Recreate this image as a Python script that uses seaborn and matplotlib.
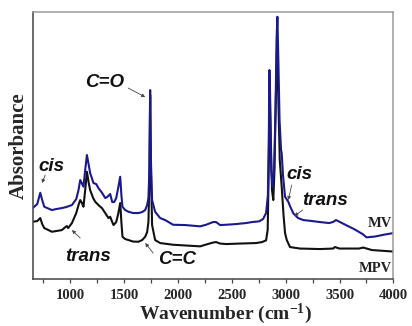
import matplotlib
matplotlib.use("Agg")
import matplotlib.pyplot as plt
import seaborn as sns
import pandas as pd
import numpy as np

# ---- data ----
mv_wn = [652, 694, 722, 740, 759, 830, 870, 923, 963, 1016, 1056, 1077, 1093, 1107, 1123,
         1139, 1155, 1172, 1185, 1216, 1241, 1262, 1297, 1325, 1343, 1371, 1390, 1408, 1427,
         1445, 1464, 1475, 1485, 1510, 1541, 1584, 1633, 1668, 1696, 1714, 1726, 1735, 1742,
         1749, 1760, 1788, 1835, 1881, 1955, 2067, 2206, 2261, 2326, 2354, 2391, 2447, 2540,
         2632, 2688, 2753, 2790, 2818, 2835, 2844, 2849, 2855, 2866, 2878, 2892, 2906, 2915,
         2923, 2932, 2943, 2957, 2963, 2975, 2994, 3024, 3040, 3071, 3115, 3164, 3245, 3318,
         3402, 3439, 3467, 3504, 3559, 3634, 3714, 3750, 3827, 3920, 4000]
mv_abs = [0.71, 0.75, 0.863, 0.79, 0.723, 0.69, 0.70, 0.71, 0.72, 0.74, 0.80, 0.89, 0.99, 0.96, 0.923,
          1.09, 1.24, 1.14, 1.06, 0.96, 0.95, 0.91, 0.86, 0.81, 0.82, 0.85, 0.77, 0.77, 0.81,
          0.91, 1.023, 0.84, 0.723, 0.69, 0.673, 0.66, 0.66, 0.67, 0.69, 0.74, 0.81, 1.09, 1.89,
          1.19, 0.79, 0.673, 0.61, 0.59, 0.543, 0.54, 0.527, 0.543, 0.57, 0.57, 0.54, 0.543, 0.55,
          0.56, 0.57, 0.577, 0.60, 0.66, 0.84, 1.49, 2.09, 1.69, 1.09, 0.92, 1.09, 1.69, 2.39,
          2.623, 2.19, 1.59, 1.29, 1.26, 1.04, 0.823, 0.773, 0.73, 0.657, 0.61, 0.59, 0.58, 0.57,
          0.56, 0.57, 0.59, 0.57, 0.54, 0.50, 0.45, 0.417, 0.425, 0.445, 0.46]

mpv_wn = [652, 694, 722, 740, 759, 830, 870, 923, 944, 969, 981, 1016, 1056, 1077, 1093, 1109,
          1123, 1139, 1155, 1172, 1185, 1213, 1232, 1262, 1294, 1325, 1355, 1371, 1390, 1402,
          1427, 1445, 1464, 1475, 1485, 1510, 1541, 1584, 1633, 1668, 1696, 1714, 1726, 1735,
          1742, 1749, 1760, 1788, 1835, 1955, 2206, 2261, 2326, 2354, 2391, 2447, 2577, 2725,
          2781, 2818, 2833, 2844, 2853, 2862, 2873, 2885, 2896, 2908, 2920, 2932, 2945, 2963,
          2980, 2994, 3010, 3040, 3133, 3318, 3440, 3457, 3500, 3680, 3720, 3800, 4000]
mpv_abs = [0.573, 0.58, 0.61, 0.55, 0.51, 0.473, 0.48, 0.49, 0.51, 0.53, 0.51, 0.56, 0.66, 0.74, 0.79, 0.76,
           0.723, 0.89, 1.073, 0.96, 0.89, 0.81, 0.773, 0.74, 0.71, 0.66, 0.61, 0.623, 0.57, 0.54,
           0.57, 0.65, 0.76, 0.57, 0.423, 0.40, 0.39, 0.375, 0.373, 0.39, 0.423, 0.47, 0.57, 0.99,
           1.84, 1.09, 0.54, 0.39, 0.36, 0.343, 0.327, 0.345, 0.365, 0.37, 0.355, 0.35, 0.355, 0.36,
           0.37, 0.387, 0.493, 1.19, 1.99, 1.39, 0.89, 0.79, 1.09, 1.79, 2.34, 1.79, 1.19, 0.923,
           0.64, 0.46, 0.39, 0.32, 0.305, 0.30, 0.305, 0.32, 0.305, 0.305, 0.315, 0.29, 0.275]

samples = ["MPV", "MV"]
colors = {"MV": "#1a1a8e", "MPV": "#111111"}

df = pd.concat([
    pd.DataFrame({"wn": mpv_wn, "abs": mpv_abs, "sample": "MPV"}),
    pd.DataFrame({"wn": mv_wn, "abs": mv_abs, "sample": "MV"}),
])

sns.set_style("white")
plt.rcParams["mathtext.default"] = "regular"

fig = plt.figure(figsize=(4.12, 3.26), dpi=100)
ax = fig.add_axes([0.0789, 0.144, 0.876, 0.820])

sns.lineplot(data=df, x="wn", y="abs", hue="sample", hue_order=samples, palette=colors,
             estimator=None, sort=False, legend=False, linewidth=1.5, ax=ax)

ax.set_xlim(650, 4000)
ax.set_ylim(0, 2.673)
ax.set_yticks([])
ax.set_xticks(np.arange(1000, 4001, 500))
ax.set_xticks(np.arange(750, 4000, 500), minor=True)
serif = "Liberation Serif"
sans = "Liberation Sans"
ax.set_xticklabels([str(v) for v in range(1000, 4001, 500)], fontfamily=serif,
                   fontweight="bold", fontsize=10.5)
ax.tick_params(axis="x", which="both", direction="out", bottom=True, length=3,
               width=0.9, color="#444444", pad=4)

for s in ["left", "bottom"]:
    ax.spines[s].set_color("#444444")
    ax.spines[s].set_linewidth(1.1)
for s in ["top", "right"]:
    ax.spines[s].set_color("#9a9a9a")
    ax.spines[s].set_linewidth(1.1)

ax.set_xlabel("Wavenumber (cm$^{-1}$)", fontfamily=serif, fontweight="bold",
              fontsize=14, va="center")
ax.xaxis.set_label_coords(0.536, -0.130)
ax.set_ylabel("Absorbance", fontfamily=serif, fontweight="bold", fontsize=15, va="center")
ax.yaxis.set_label_coords(-0.037, 0.5)

ann = dict(fontfamily=sans, fontweight="bold", fontstyle="italic", fontsize=13.5,
           ha="center", va="center", color="#111111")
arrow = dict(arrowstyle="-|>", color="#444444", lw=0.6, mutation_scale=5,
             shrinkA=0, shrinkB=0)

labels = [
    ("C=O", (1315, 1.97), (1538, 1.91), (1696, 1.82)),
    ("cis", (824, 1.13), (768, 1.04), (738, 0.96)),
    ("trans", (1167, 0.23), (1093, 0.41), (1016, 0.49)),
    ("C=C", (1992, 0.20), (1770, 0.26), (1696, 0.36)),
    ("cis", (3124, 1.05), (3056, 0.94), (3024, 0.79)),
    ("trans", (3365, 0.79), (3158, 0.69), (3080, 0.63)),
]
for txt, tpos, a0, a1 in labels:
    ax.text(tpos[0], tpos[1], txt, **ann)
    ax.annotate("", xy=a1, xytext=a0, arrowprops=arrow)

ax.text(3985, 0.56, "MV", fontfamily=serif, fontweight="bold", fontsize=10.5,
        ha="right", va="center", color="#222222")
ax.text(3985, 0.11, "MPV", fontfamily=serif, fontweight="bold", fontsize=10.5,
        ha="right", va="center", color="#222222")

fig.savefig("out.png", dpi=100)
